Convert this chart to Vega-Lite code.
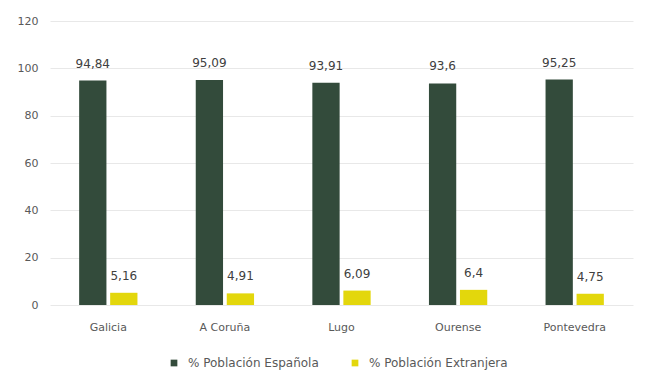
{
  "$schema": "https://vega.github.io/schema/vega-lite/v6.json",
  "width": 583,
  "height": 284,
  "autosize": {"type": "none"},
  "padding": {"left": 50, "top": 21, "right": 20, "bottom": 69},
  "background": "white",
  "config": {
    "font": "DejaVu Sans",
    "view": {"stroke": null},
    "axis": {"labelColor": "#595959", "labelFontSize": 11, "ticks": false, "domain": false}
  },
  "data": {
    "values": [
      {"provincia": "Galicia", "serie": "% Población Española", "valor": 94.84, "etiqueta": "94,84"},
      {"provincia": "Galicia", "serie": "% Población Extranjera", "valor": 5.16, "etiqueta": "5,16"},
      {"provincia": "A Coruña", "serie": "% Población Española", "valor": 95.09, "etiqueta": "95,09"},
      {"provincia": "A Coruña", "serie": "% Población Extranjera", "valor": 4.91, "etiqueta": "4,91"},
      {"provincia": "Lugo", "serie": "% Población Española", "valor": 93.91, "etiqueta": "93,91"},
      {"provincia": "Lugo", "serie": "% Población Extranjera", "valor": 6.09, "etiqueta": "6,09"},
      {"provincia": "Ourense", "serie": "% Población Española", "valor": 93.6, "etiqueta": "93,6"},
      {"provincia": "Ourense", "serie": "% Población Extranjera", "valor": 6.4, "etiqueta": "6,4"},
      {"provincia": "Pontevedra", "serie": "% Población Española", "valor": 95.25, "etiqueta": "95,25"},
      {"provincia": "Pontevedra", "serie": "% Población Extranjera", "valor": 4.75, "etiqueta": "4,75"}
    ]
  },
  "encoding": {
    "x": {
      "field": "provincia", "type": "nominal", "sort": null,
      "scale": {"paddingInner": 0.5, "paddingOuter": 0.25},
      "axis": {"title": null, "labelAngle": 0, "labelPadding": 16, "grid": false}
    },
    "xOffset": {"field": "serie", "type": "nominal", "scale": {"paddingInner": 0.12}},
    "y": {
      "field": "valor", "type": "quantitative",
      "scale": {"domain": [0, 120]},
      "axis": {"title": null, "values": [0, 20, 40, 60, 80, 100, 120], "labelPadding": 12, "gridColor": "#e8e8e8"}
    }
  },
  "layer": [
    {
      "mark": {"type": "bar"},
      "encoding": {
        "color": {
          "field": "serie", "type": "nominal",
          "scale": {"domain": ["% Población Española", "% Población Extranjera"], "range": ["#334b3b", "#e3d70c"]},
          "legend": {"title": null, "orient": "none", "legendX": 118, "legendY": 336, "direction": "horizontal", "symbolType": "square", "labelFontSize": 12, "labelColor": "#595959", "columnPadding": 30, "symbolSize": 45, "labelOffset": 8}
        }
      }
    },
    {
      "mark": {"type": "text", "baseline": "bottom", "dy": -10, "fontSize": 12, "color": "#404040"},
      "encoding": {"text": {"field": "etiqueta"}}
    }
  ]
}
